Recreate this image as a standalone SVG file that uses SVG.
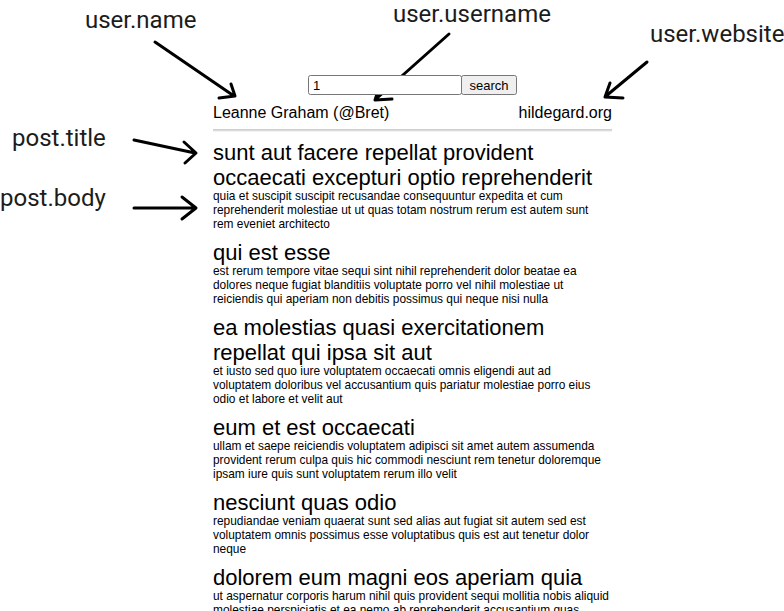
<svg xmlns="http://www.w3.org/2000/svg" width="784" height="611" viewBox="0 0 784 611">
<style>
.note{font-family:Roboto,"Liberation Sans",sans-serif;font-size:24px;fill:#1c1c1c}
.arr{fill:none;stroke:#000;stroke-width:3;stroke-linecap:round;stroke-linejoin:round}
.page{font-family:"Liberation Sans",Arial,sans-serif;fill:#000}
.h{font-size:22px}
.b{font-size:11.9px}
.hdr{font-size:16px}
.ctl{font-size:13px}
</style>
<rect width="784" height="611" fill="#fff"/>
<g id="annotations">
<text class="note" x="85" y="28">user.name</text>
<text class="note" x="393" y="22">user.username</text>
<text class="note" x="650" y="42">user.website</text>
<text class="note" x="12" y="146">post.title</text>
<text class="note" x="0" y="206">post.body</text>
</g>
<g id="connectors">
<path class="arr" d="M155,42 L234,96 M231,84 L235,96 L219,98"/>
<path class="arr" d="M449,34 L376,99 M380,85 L375,100 L392,99"/>
<path class="arr" d="M647,62 L606,96 M610,83 L605,97 L623,98"/>
<path class="arr" d="M134,140 L195,153 M184,142 L196,153 L185,163"/>
<path class="arr" d="M134,208 L195,208 M182,197 L196,208 L182,219"/>
</g>
<g id="search-form" class="page">
<rect x="308.5" y="75.5" width="153" height="19" rx="2" fill="#fff" stroke="#767676"/>
<text class="ctl" x="313" y="90">1</text>
<rect x="461.5" y="75.5" width="55" height="19" rx="2" fill="#efefef" stroke="#767676"/>
<text class="ctl" x="489" y="90" text-anchor="middle">search</text>
</g>
<g id="user-header" class="page">
<text class="hdr" x="213" y="118">Leanne Graham (@Bret)</text>
<text class="hdr" x="612" y="118" text-anchor="end">hildegard.org</text>
<line x1="213" y1="130" x2="612" y2="130" stroke="#a0a0a0" stroke-width="1"/>
<line x1="213" y1="131" x2="612" y2="131" stroke="#e6e6e6" stroke-width="1"/>
</g>
<g id="post-1" class="page">
<text class="h" x="213" y="160">sunt aut facere repellat provident</text>
<text class="h" x="213" y="185">occaecati excepturi optio reprehenderit</text>
<text class="b" x="213" y="200">quia et suscipit suscipit recusandae consequuntur expedita et cum</text>
<text class="b" x="213" y="214">reprehenderit molestiae ut ut quas totam nostrum rerum est autem sunt</text>
<text class="b" x="213" y="228">rem eveniet architecto</text>
</g>
<g id="post-2" class="page">
<text class="h" x="213" y="260">qui est esse</text>
<text class="b" x="213" y="275">est rerum tempore vitae sequi sint nihil reprehenderit dolor beatae ea</text>
<text class="b" x="213" y="289">dolores neque fugiat blanditiis voluptate porro vel nihil molestiae ut</text>
<text class="b" x="213" y="303">reiciendis qui aperiam non debitis possimus qui neque nisi nulla</text>
</g>
<g id="post-3" class="page">
<text class="h" x="213" y="335">ea molestias quasi exercitationem</text>
<text class="h" x="213" y="360">repellat qui ipsa sit aut</text>
<text class="b" x="213" y="375">et iusto sed quo iure voluptatem occaecati omnis eligendi aut ad</text>
<text class="b" x="213" y="389">voluptatem doloribus vel accusantium quis pariatur molestiae porro eius</text>
<text class="b" x="213" y="403">odio et labore et velit aut</text>
</g>
<g id="post-4" class="page">
<text class="h" x="213" y="435">eum et est occaecati</text>
<text class="b" x="213" y="450">ullam et saepe reiciendis voluptatem adipisci sit amet autem assumenda</text>
<text class="b" x="213" y="464">provident rerum culpa quis hic commodi nesciunt rem tenetur doloremque</text>
<text class="b" x="213" y="478">ipsam iure quis sunt voluptatem rerum illo velit</text>
</g>
<g id="post-5" class="page">
<text class="h" x="213" y="510">nesciunt quas odio</text>
<text class="b" x="213" y="525">repudiandae veniam quaerat sunt sed alias aut fugiat sit autem sed est</text>
<text class="b" x="213" y="539">voluptatem omnis possimus esse voluptatibus quis est aut tenetur dolor</text>
<text class="b" x="213" y="553">neque</text>
</g>
<g id="post-6" class="page">
<text class="h" x="213" y="585">dolorem eum magni eos aperiam quia</text>
<text class="b" x="213" y="600">ut aspernatur corporis harum nihil quis provident sequi mollitia nobis aliquid</text>
<text class="b" x="213" y="614">molestiae perspiciatis et ea nemo ab reprehenderit accusantium quas</text>
</g>
</svg>
